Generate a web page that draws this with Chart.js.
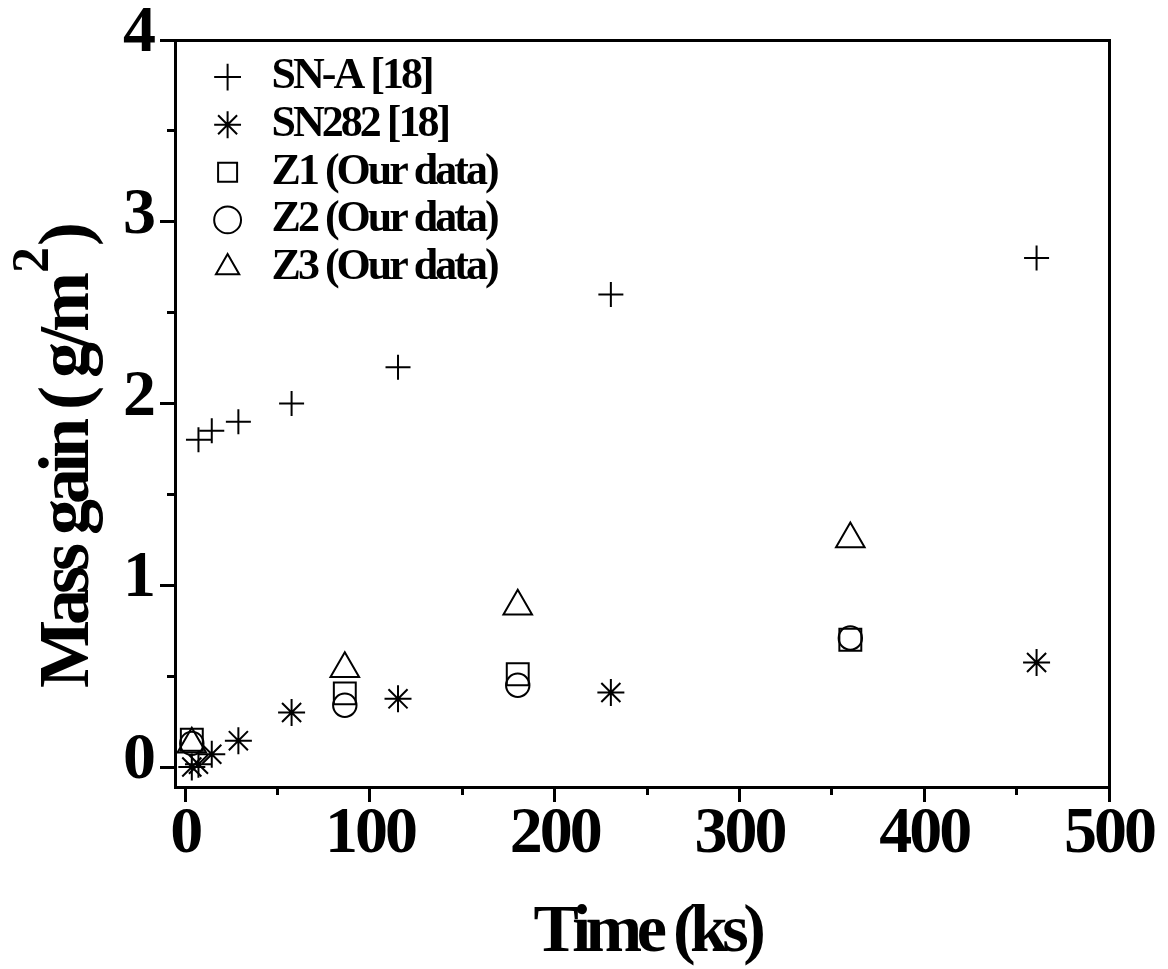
<!DOCTYPE html>
<html>
<head>
<meta charset="utf-8">
<title>Mass gain vs time</title>
<script src="https://cdn.jsdelivr.net/npm/chart.js@4.4.0/dist/chart.umd.min.js"></script>
<style>
    html, body { margin: 0; padding: 0; background: #fff; }
    canvas { display: block; }
</style>
</head>
<body>
<canvas id="massChart" width="1168" height="969"></canvas>
<script>
// exposure time (ks) and mass gain (g/m2) for each alloy
const snATime = [7.2, 14.4, 28.8, 57.6, 115.2, 230.4, 460.8];
const snAGain = [1.80, 1.85, 1.90, 2.00, 2.20, 2.60, 2.80];

const sn282Time = [3.6, 7.2, 14.4, 28.8, 57.6, 115.2, 230.4, 460.8];
const sn282Gain = [0.00, 0.015, 0.07, 0.145, 0.30, 0.375, 0.41, 0.575];

const zTime = [3.6, 86.4, 180, 360];
const z1Gain = [0.15, 0.405, 0.51, 0.70];
const z2Gain = [0.13, 0.34, 0.45, 0.71];
const z3Gain = [0.125, 0.54, 0.885, 1.255];

const seriesLabels = ["SN-A [18]", "SN282 [18]", "Z1 (Our data)", "Z2 (Our data)", "Z3 (Our data)"];

const xTicks = [0, 100, 200, 300, 400, 500];
const yTicks = [0, 1, 2, 3, 4];

const xTitle = "Time (ks)";
const yTitle = "Mass gain ( g/m";
const yTitleSup = "2";
const yTitleEnd = ")";

const serif = "'Liberation Serif', 'Times New Roman', serif";

function toPoints(xs, ys) {
    return xs.map(function (x, i) {
        return { x: x, y: ys[i] };
    });
}

function series(label, xs, ys, style, radius) {
    return {
        label: label,
        data: toPoints(xs, ys),
        showLine: false,
        pointStyle: style,
        pointRadius: radius,
        pointBorderWidth: 2,
        borderColor: "#000",
        backgroundColor: "rgba(0,0,0,0)"
    };
}

// tight text like the printed figure
const letterSpacingPlugin = {
    id: "letterSpacing",
    beforeDraw: function (chart) {
        chart.ctx.letterSpacing = "-3px";
    }
};

// move the legend into the upper left corner of the frame
const legendPlacePlugin = {
    id: "legendPlace",
    afterLayout: function (chart) {
        const area = chart.chartArea;
        chart.legend.left = area.left + 27;
        chart.legend.top = area.top + 11.5;
    }
};

// axis titles, the y title has a superscript
const axisTitlePlugin = {
    id: "axisTitles",
    afterDraw: function (chart) {
        const ctx = chart.ctx;
        const area = chart.chartArea;
        ctx.save();
        ctx.fillStyle = "#000";
        ctx.letterSpacing = "-5.5px";
        ctx.textBaseline = "alphabetic";

        ctx.font = "bold 68px " + serif;
        ctx.textAlign = "center";
        ctx.fillText(xTitle, (area.left + area.right) / 2 + 5, 951);

        ctx.letterSpacing = "-5px";
        ctx.translate(88, 688);
        ctx.rotate(-Math.PI / 2);
        ctx.textAlign = "left";
        ctx.font = "bold 72px " + serif;
        ctx.fillText(yTitle, 0, 0);
        let w = ctx.measureText(yTitle).width + 4;
        ctx.font = "bold 52px " + serif;
        ctx.fillText(yTitleSup, w, -40);
        w += ctx.measureText(yTitleSup).width + 6;
        ctx.font = "bold 72px " + serif;
        ctx.fillText(yTitleEnd, w, 0);
        ctx.restore();
    }
};

const tickFont = { family: serif, size: 66, weight: "bold", lineHeight: 1 };
const xRange = { min: -5.5, max: 500 };
const yRange = { min: -0.11, max: 4 };

new Chart(document.getElementById("massChart"), {
    type: "scatter",
    data: {
        datasets: [
            series(seriesLabels[0], snATime, snAGain, "cross", 12.5),
            series(seriesLabels[1], sn282Time, sn282Gain, "star", 13.5),
            series(seriesLabels[2], zTime, z1Gain, "rect", 15.5),
            series(seriesLabels[3], zTime, z2Gain, "circle", 11.7),
            series(seriesLabels[4], zTime, z3Gain, "triangle", 16.5)
        ]
    },
    options: {
        responsive: false,
        animation: false,
        events: [],
        layout: {
            padding: { left: 0, top: 37, right: 59, bottom: 0 }
        },
        plugins: {
            legend: {
                position: "chartArea",
                align: "start",
                labels: {
                    usePointStyle: true,
                    boxWidth: 44,
                    boxHeight: 19,
                    padding: 3.6,
                    color: "#000",
                    font: { family: serif, size: 44, weight: "bold" }
                }
            },
            tooltip: { enabled: false }
        },
        scales: {
            x: {
                type: "linear",
                position: "bottom",
                weight: 1,
                min: xRange.min,
                max: xRange.max,
                afterBuildTicks: function (axis) {
                    axis.ticks = xTicks.map(function (v) { return { value: v }; });
                },
                afterFit: function (axis) { axis.height = 182; },
                grid: { drawOnChartArea: false, color: "#000", lineWidth: 3, tickLength: 15 },
                border: { color: "#000", width: 3 },
                ticks: { color: "#000", font: tickFont, padding: 0, maxRotation: 0, autoSkip: false }
            },
            xMinor: {
                type: "linear",
                position: "bottom",
                weight: 0,
                min: xRange.min,
                max: xRange.max,
                afterFit: function (axis) { axis.height = 0; },
                grid: { drawOnChartArea: false, color: "#000", lineWidth: 3, tickLength: 8 },
                border: { display: false },
                ticks: { display: false, stepSize: 50, includeBounds: false }
            },
            xTop: {
                type: "linear",
                position: "top",
                min: xRange.min,
                max: xRange.max,
                afterFit: function (axis) { axis.height = 0; },
                grid: { display: false },
                border: { color: "#000", width: 3 },
                ticks: { display: false }
            },
            y: {
                type: "linear",
                position: "left",
                weight: 1,
                min: yRange.min,
                max: yRange.max,
                afterBuildTicks: function (axis) {
                    axis.ticks = yTicks.map(function (v) { return { value: v }; });
                },
                afterFit: function (axis) { axis.width = 175; },
                grid: { drawOnChartArea: false, color: "#000", lineWidth: 3, tickLength: 15 },
                border: { color: "#000", width: 3 },
                ticks: { color: "#000", font: tickFont, padding: 7, labelOffset: -6 }
            },
            yMinor: {
                type: "linear",
                position: "left",
                weight: 0,
                min: yRange.min,
                max: yRange.max,
                afterFit: function (axis) { axis.width = 0; },
                grid: { drawOnChartArea: false, color: "#000", lineWidth: 3, tickLength: 8 },
                border: { display: false },
                ticks: { display: false, stepSize: 0.5, includeBounds: false }
            },
            yRight: {
                type: "linear",
                position: "right",
                min: yRange.min,
                max: yRange.max,
                afterFit: function (axis) { axis.width = 0; },
                grid: { display: false },
                border: { color: "#000", width: 3 },
                ticks: { display: false }
            }
        }
    },
    plugins: [letterSpacingPlugin, legendPlacePlugin, axisTitlePlugin]
});
</script>
</body>
</html>
